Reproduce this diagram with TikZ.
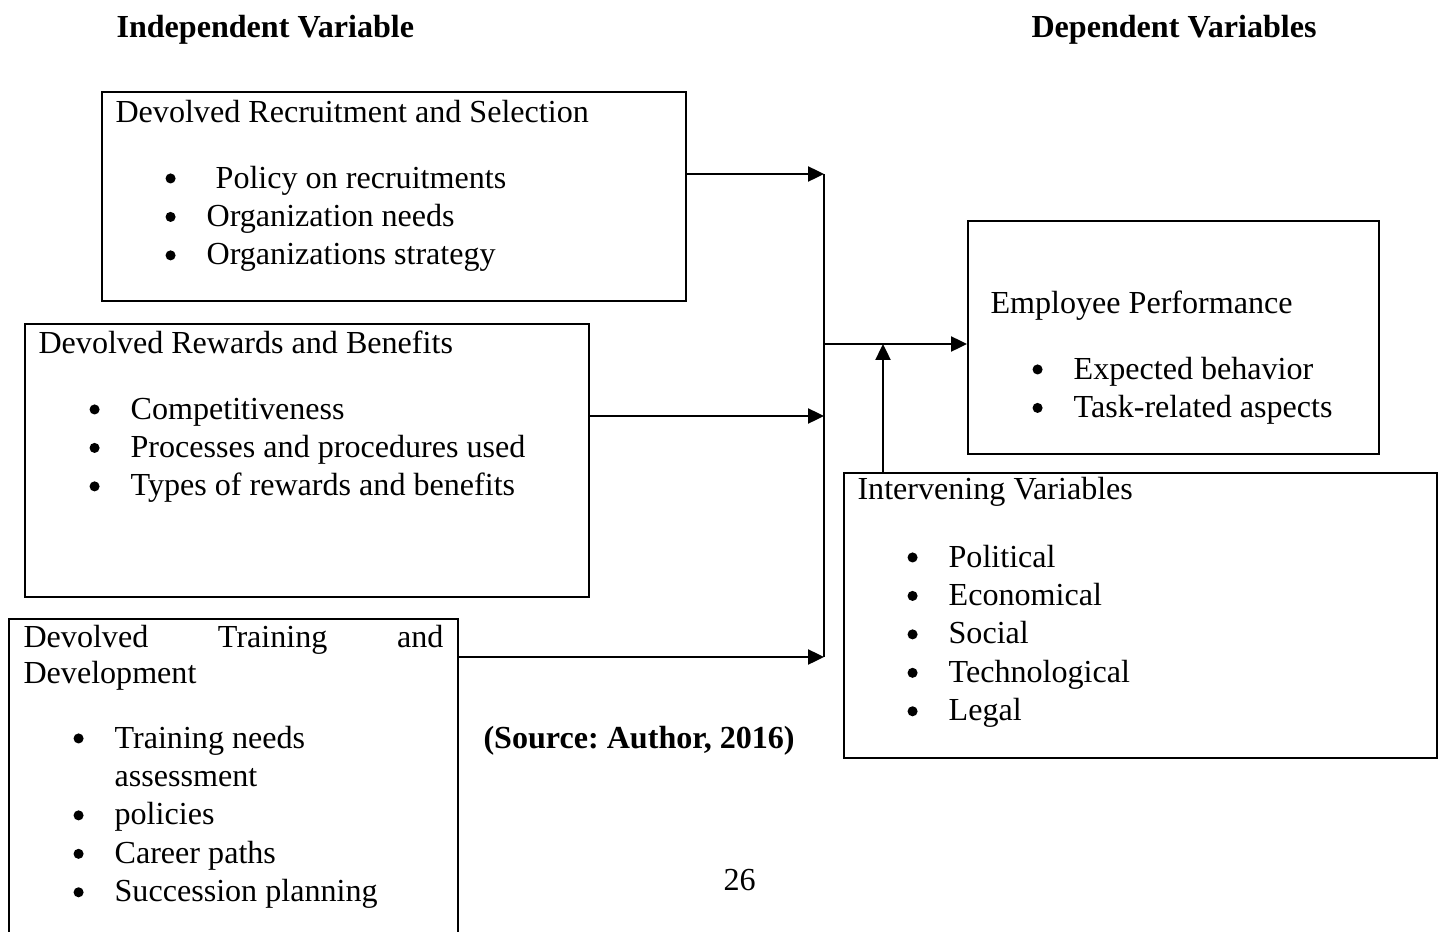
\documentclass[tikz,border=0pt]{standalone}
\usepackage{fontspec}
\setmainfont{Liberation Serif}
\usetikzlibrary{arrows.meta}
\usetikzlibrary{calc}
\frenchspacing
\newcommand{\pix}{0.377pt}
\tikzset{box/.style={draw,line width=0.9pt,inner sep=0,anchor=north west}}
\tikzset{rotulo/.style={anchor=base west,inner sep=0}}
\tikzset{conn/.style={line width=1pt,-{Triangle[length=6pt,width=5.6pt]}}}
\tikzset{trunk/.style={line width=0.8pt}}
\newcommand{\marca}{\makebox[15.5pt][l]{\tikz[baseline=0pt]\fill (1.9pt,3.6pt) circle (1.9pt);}}

\begin{document}
\begin{tikzpicture}[x=\pix,y=-\pix,every node/.style={font=\fontsize{12.1}{14.5}\selectfont}]
	\useasboundingbox (0,0) rectangle (1441,932);

	% Cabecalhos
	\node [rotulo,font=\fontsize{12.1}{14.5}\selectfont\bfseries] (indep) at (116,37) {Independent Variable};
	\node [rotulo,font=\fontsize{12.1}{14.5}\selectfont\bfseries] (dep) at (1031,37) {Dependent Variables};

	% Caixas
	\node [box,minimum width=584*\pix,minimum height=209*\pix] (recsel) at (101,91) {};
	\node [box,minimum width=564*\pix,minimum height=273*\pix] (rewards) at (24,323) {};
	\node [box,minimum width=449*\pix,minimum height=327*\pix] (training) at (8,618) {};
	\node [box,minimum width=411*\pix,minimum height=233*\pix] (perf) at (967,220) {};
	\node [box,minimum width=593*\pix,minimum height=285*\pix] (interv) at (843,472) {};

	% Textos das caixas
	\node [rotulo] (recselT) at (115,122) {Devolved Recruitment and Selection};
	\node [rotulo] (recselL) at (165,188) {\begin{tabular}[t]{@{}l@{}}
		\marca\hspace{3.4pt}Policy on recruitments\\
		\marca Organization needs\\
		\marca Organizations strategy
	\end{tabular}};

	\node [rotulo] (rewardsT) at (38,353) {Devolved Rewards and Benefits};
	\node [rotulo] (rewardsL) at (89,419) {\begin{tabular}[t]{@{}l@{}}
		\marca Competitiveness\\
		\marca Processes and procedures used\\
		\marca Types of rewards and benefits
	\end{tabular}};

	\node [rotulo] (trainingT) at (23,647) {\makebox[158.3pt][s]{Devolved\hfill Training\hfill and}};
	\node [rotulo] (trainingT2) at (23,683) {Development};
	\node [rotulo] (trainingL) at (73,748) {\begin{tabular}[t]{@{}l@{}}
		\marca Training needs\\
		\hspace{15.5pt}assessment\\
		\marca policies\\
		\marca Career paths\\
		\marca Succession planning
	\end{tabular}};

	\node [rotulo] (perfT) at (990,313) {Employee Performance};
	\node [rotulo] (perfL) at (1032,379) {\begin{tabular}[t]{@{}l@{}}
		\marca Expected behavior\\
		\marca Task-related aspects
	\end{tabular}};

	\node [rotulo] (intervT) at (857,499) {Intervening Variables};
	\node [rotulo] (intervL) at (907,567) {\begin{tabular}[t]{@{}l@{}}
		\marca Political\\
		\marca Economical\\
		\marca Social\\
		\marca Technological\\
		\marca Legal
	\end{tabular}};

	\node [rotulo,font=\fontsize{12.1}{14.5}\selectfont\bfseries] (source) at (483,748) {(Source: Author, 2016)};
	\node [rotulo] (page) at (723,890) {26};

	% Ligacoes
	\coordinate (jtop) at (824,174);
	\coordinate (jrew) at (824,416);
	\coordinate (jbot) at (824,657);
	\coordinate (jmid) at (824,344);
	\coordinate (jup) at (883,344);
	\draw [trunk] (jtop) -- (jbot);
	\draw [conn] (recsel.east |- jtop) -- (jtop);
	\draw [conn] (rewards.east |- jrew) -- (jrew);
	\draw [conn] (training.east |- jbot) -- (jbot);
	\draw [conn] (jmid) -- (perf.west |- jmid);
	\draw [conn] (interv.north -| jup) -- (jup);

\end{tikzpicture}
\end{document}
